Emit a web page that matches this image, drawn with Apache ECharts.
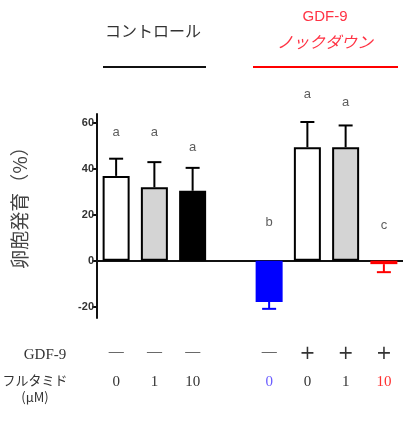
<!DOCTYPE html>
<html>
<head>
<meta charset="utf-8">
<script src="https://cdn.jsdelivr.net/npm/echarts@6/dist/echarts.min.js"></script>
<style>
  html, body { margin: 0; padding: 0; background: #fff; }
  #chart { width: 403px; height: 432px; }
</style>
</head>
<body>
<div id="chart"></div>
<script>
// bar positions on the x axis (slot 4 is the gap between the two groups)
const positions = [1, 2, 3, 5, 6, 7, 8];
const values = [37, 32, 30.5, -18, 49.5, 49.5, -1.5];
const errors = [7.5, 11, 10, 3, 11, 9.5, 3.5];
const fills = ["#ffffff", "#d4d4d4", "#000000", "#0000ff", "#ffffff", "#d4d4d4", "#ff0000"];
const borders = ["#000", "#000", "#000", "#0000ff", "#000", "#000", "#ff0000"];
const letters = ["a", "a", "a", "b", "a", "a", "c"];
const letterY = [55.8, 55.8, 49.3, 16.6, 72.4, 68.9, 15.3];
const gdf9Row = ["—", "—", "—", "—", "+", "+", "+"];
const flutamideRow = ["0", "1", "10", "0", "0", "1", "10"];
const yTicks = [-20, 0, 20, 40, 60];

const chart = echarts.init(document.getElementById("chart"));

const barData = positions.map((x, i) => ({
	value: [x, values[i]],
	itemStyle: { color: fills[i], borderColor: borders[i], borderWidth: 2 }
}));

const errData = positions.map((x, i) => {
	const dir = values[i] < 0 ? -1 : 1;
	return [x, values[i], values[i] + dir * errors[i], i];
});

const letterData = positions.map((x, i) => [x, letterY[i], letters[i]]);

function rowAxis (offset, row, pickStyle) {
	return {
		type: "value",
		min: 0.5,
		max: 8.5,
		position: "bottom",
		offset: offset,
		axisLine: { show: false, onZero: false },
		axisTick: { show: false },
		splitLine: { show: false },
		axisLabel: {
			customValues: positions,
			margin: 8,
			fontFamily: "Liberation Serif",
			fontSize: 15,
			color: "#333",
			formatter: v => {
				const i = positions.indexOf(v);
				if (i < 0) return "";
				return "{" + pickStyle(i) + "|" + row[i] + "}";
			},
			rich: {
				n: { color: "#333", fontFamily: "Liberation Serif", fontSize: 15 },
				p: { color: "#333", fontFamily: "DejaVu Sans", fontSize: 19 },
				b: { color: "#6a5cff", fontFamily: "Liberation Serif", fontSize: 15 },
				r: { color: "#ff3030", fontFamily: "Liberation Serif", fontSize: 15 }
			}
		}
	};
}

option = {
	animation: false,
	grid: {
		left: 97,
		right: 0,
		top: 114,
		bottom: 114
	},
	xAxis: [{
		type: "value",
		min: 0.5,
		max: 8.5,
		axisLine: { onZero: true, lineStyle: { color: "#111", width: 2 } },
		axisTick: { show: false },
		axisLabel: { show: false },
		splitLine: { show: false }
	},
	rowAxis(19, gdf9Row, i => (gdf9Row[i] === "+" ? "p" : "n")),
	rowAxis(49, flutamideRow, i => (i === 3 ? "b" : i === 6 ? "r" : "n"))
	],
	yAxis: {
		type: "value",
		min: -25,
		max: 64,
		axisLine: { show: true, onZero: false, lineStyle: { color: "#111", width: 2 } },
		axisTick: { show: true, customValues: yTicks, length: 5, lineStyle: { color: "#111", width: 2 } },
		axisLabel: {
			customValues: yTicks,
			margin: 3,
			fontFamily: "Liberation Sans",
			fontWeight: "bold",
			fontSize: 11,
			color: "#333"
		},
		splitLine: { show: false }
	},
	series: [{
		type: "bar",
		data: barData,
		barWidth: 27,
		z: 2
	}, {
		type: "custom",
		data: errData,
		z: 3,
		renderItem: (params, api) => {
			const x = api.value(0);
			const base = api.coord([x, api.value(1)]);
			const tip = api.coord([x, api.value(2)]);
			const i = api.value(3);
			const color = borders[i];
			const half = 7;
			return {
				type: "group",
				children: [{
					type: "line",
					shape: { x1: base[0], y1: base[1], x2: tip[0], y2: tip[1] },
					style: { stroke: color, lineWidth: 2 }
				}, {
					type: "line",
					shape: { x1: tip[0] - half, y1: tip[1], x2: tip[0] + half, y2: tip[1] },
					style: { stroke: color, lineWidth: 2 }
				}]
			};
		}
	}, {
		type: "scatter",
		data: letterData,
		symbolSize: 0,
		clip: false,
		silent: true,
		label: {
			show: true,
			position: "inside",
			formatter: p => p.value[2],
			fontFamily: "Liberation Sans",
			fontSize: 13,
			color: "#333"
		}
	}],
	graphic: [{
		type: "text",
		x: 20,
		y: 203,
		rotation: Math.PI / 2,
		style: {
			text: "卵胞発育（%）",
			fontFamily: "Noto Sans CJK JP",
			fontSize: 19,
			fill: "#444",
			align: "center",
			verticalAlign: "middle"
		}
	}, {
		type: "text",
		x: 153,
		y: 31,
		style: {
			text: "コントロール",
			fontFamily: "Noto Sans CJK JP",
			fontSize: 16,
			fill: "#333",
			align: "center",
			verticalAlign: "middle"
		}
	}, {
		type: "line",
		shape: { x1: 103, y1: 67, x2: 206, y2: 67 },
		style: { stroke: "#111", lineWidth: 2 }
	}, {
		type: "text",
		x: 325,
		y: 17,
		style: {
			text: "GDF-9",
			fontFamily: "Liberation Sans",
			fontSize: 15,
			fill: "#ff3344",
			align: "center",
			verticalAlign: "middle"
		}
	}, {
		type: "text",
		x: 325,
		y: 42,
		style: {
			text: "ノックダウン",
			fontFamily: "Noto Sans CJK JP",
			fontStyle: "italic",
			fontSize: 16,
			fill: "#ff3344",
			align: "center",
			verticalAlign: "middle"
		}
	}, {
		type: "line",
		shape: { x1: 253, y1: 67, x2: 398, y2: 67 },
		style: { stroke: "#ff0000", lineWidth: 2 }
	}, {
		type: "text",
		x: 45,
		y: 355,
		style: {
			text: "GDF-9",
			fontFamily: "Liberation Serif",
			fontSize: 15,
			fill: "#333",
			align: "center",
			verticalAlign: "middle"
		}
	}, {
		type: "text",
		x: 35,
		y: 389,
		style: {
			text: "フルタミド\n(μM)",
			fontFamily: "Noto Sans CJK JP",
			fontSize: 13,
			lineHeight: 17,
			fill: "#333",
			align: "center",
			verticalAlign: "middle"
		}
	}]
};

chart.setOption(option);
window.onresize = chart.resize;
</script>
</body>
</html>
